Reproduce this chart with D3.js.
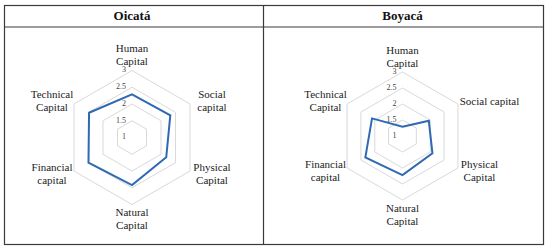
<!DOCTYPE html>
<html lang="en">
  <head>
    <meta charset="UTF-8" />
    <title>Capitals radar - Oicatá / Boyacá</title>
    <script src="https://d3js.org/d3.v7.min.js"></script>
    <style>
      body { margin: 0; background: #fff; }
      svg { display: block; }
      .ring { fill: none; stroke: #d9d9d9; stroke-width: 1px; }
      .line { fill: none; stroke: #2f69b3; stroke-width: 2px; stroke-linejoin: miter; }
    </style>
  </head>
  <body>
    <svg width="550" height="252"></svg>
    <script>
      // data
      const axes = ["Human Capital", "Social capital", "Physical Capital",
                    "Natural Capital", "Financial capital", "Technical Capital"];
      const ticks = [1, 1.5, 2, 2.5, 3];
      const oicataValues = [2.29, 2.32, 2.18, 2.42, 2.5, 2.48];
      const boyacaValues = [1.29, 1.95, 2.08, 2.22, 2.34, 2.1];
      // how each axis name wraps in each panel
      const oicataLabels = [["Human", "Capital"], ["Social", "capital"], ["Physical", "Capital"],
                            ["Natural", "Capital"], ["Financial", "capital"], ["Technical", "Capital"]];
      const boyacaLabels = [["Human", "Capital"], ["Social capital"], ["Physical", "Capital"],
                            ["Natural", "Capital"], ["Financial", "capital"], ["Technical", "Capital"]];

      const FONT = "Liberation Serif";
      const svg = d3.select("svg").attr("font-family", FONT);

      // table frame
      const T = { left: 4.5, right: 543.5, top: 5.5, bottom: 244.5, head: 27, mid: 263.5 };
      const frame = svg.append("g").attr("stroke", "#3a3a3a").attr("stroke-width", 1.2);
      frame.append("rect")
        .attr("x", T.left).attr("y", T.top)
        .attr("width", T.right - T.left).attr("height", T.bottom - T.top)
        .attr("fill", "none");
      frame.append("line").attr("x1", T.left).attr("x2", T.right).attr("y1", T.head).attr("y2", T.head);
      frame.append("line").attr("x1", T.mid).attr("x2", T.mid).attr("y1", T.top).attr("y2", T.bottom);

      const panels = [
        { title: "Oicatá", values: oicataValues, labels: oicataLabels, cx: 132, cy: 137.5, R: 67 },
        { title: "Boyacá", values: boyacaValues, labels: boyacaLabels, cx: 402.5, cy: 136, R: 64 }
      ];

      const angle = d3.scaleLinear().domain([0, axes.length]).range([0, 2 * Math.PI]);

      panels.forEach((p) => {
        svg.append("text")
          .attr("font-family", FONT)
          .attr("font-size", 13)
          .attr("font-weight", "bold")
          .attr("fill", "#111")
          .attr("x", p.cx).attr("y", 17)
          .attr("text-anchor", "middle")
          .attr("dominant-baseline", "middle")
          .text(p.title);

        const r = d3.scaleLinear().domain([1, 3]).range([0, p.R]);
        const g = svg.append("g").attr("transform", `translate(${p.cx}, ${p.cy})`);

        const radial = d3.lineRadial()
          .angle((d, i) => angle(i))
          .radius((d) => r(d))
          .curve(d3.curveLinearClosed);

        // grid rings (value 1 sits at the centre)
        g.selectAll(".ring")
          .data(ticks.filter((t) => t > 1))
          .enter()
          .append("path")
          .attr("class", "ring")
          .attr("d", (t) => radial(axes.map(() => t)));

        // tick labels
        g.selectAll(".tick")
          .data(ticks)
          .enter()
          .append("text")
          .attr("class", "tick")
          .attr("font-family", FONT)
          .attr("font-size", 8)
          .attr("fill", "#444")
          .attr("x", -6)
          .attr("y", (t) => -r(t))
          .attr("text-anchor", "end")
          .attr("dominant-baseline", "middle")
          .text((t) => t);

        // series
        g.append("path")
          .datum(p.values)
          .attr("class", "line")
          .attr("d", radial);

        // axis names
        axes.forEach((name, i) => {
          const a = angle(i);
          const s = Math.sin(a), c = Math.cos(a);
          let lx = Math.abs(s) > 0.1 ? Math.sign(s) * (p.R + 13) : 0;
          let ly = Math.abs(c) > 0.9 ? -c * (p.R + 15) : -c * (p.R / 2 + 3) * 2;
          const lines = p.labels[i];
          if (lines.length === 1) { lx += 10; ly += 1; }
          const t = g.append("text")
            .attr("font-family", FONT)
            .attr("font-size", 11)
            .attr("fill", "#222")
            .attr("text-anchor", "middle")
            .attr("x", lx)
            .attr("y", ly - (lines.length - 1) * 6.5)
            .attr("dominant-baseline", "middle");
          lines.forEach((ln, k) => {
            t.append("tspan")
              .attr("x", lx)
              .attr("dy", k === 0 ? 0 : 13)
              .text(ln);
          });
        });
      });
    </script>
  </body>
</html>
